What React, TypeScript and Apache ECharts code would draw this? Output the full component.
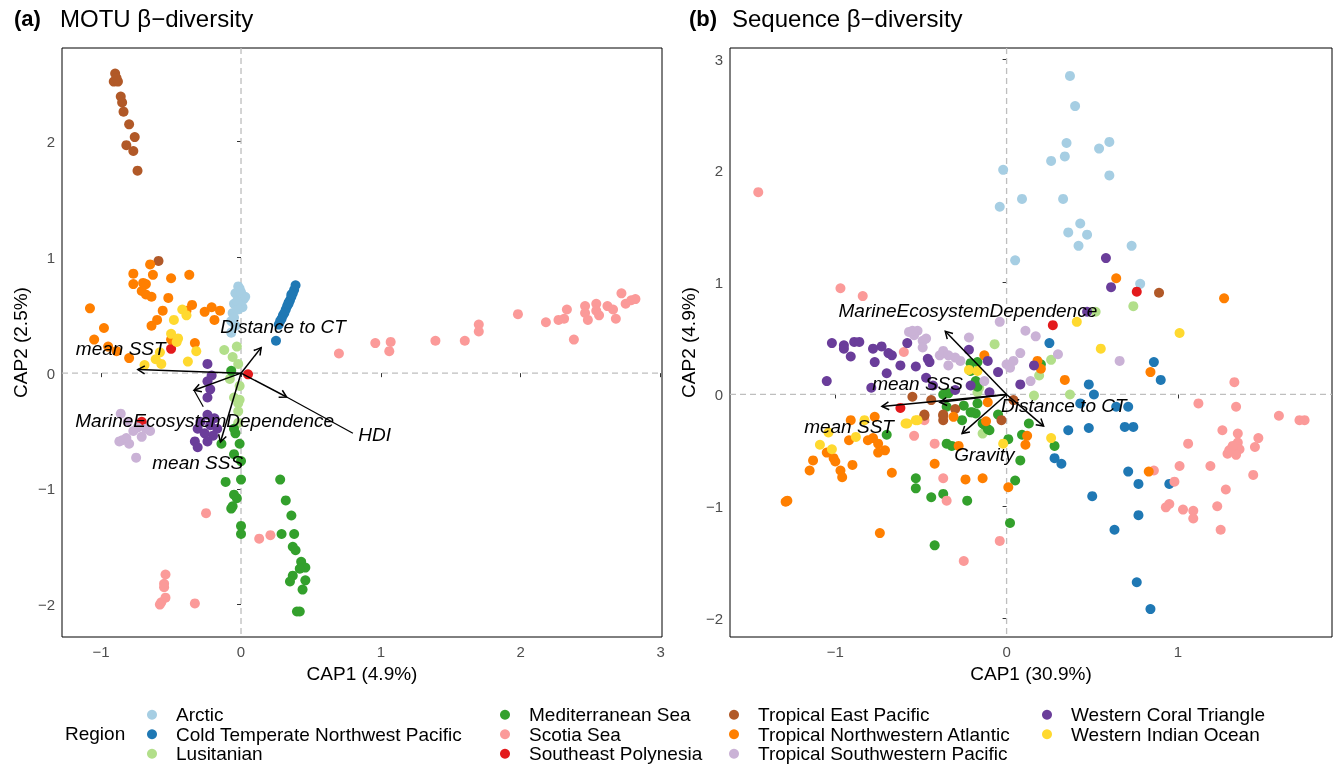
import React, { useEffect, useRef } from "react";
import * as echarts from "echarts";

const FONT = '"Liberation Sans", Arial, Helvetica, sans-serif';

const regions = [
  "Arctic",
  "Cold Temperate Northwest Pacific",
  "Lusitanian",
  "Mediterranean Sea",
  "Scotia Sea",
  "Southeast Polynesia",
  "Tropical East Pacific",
  "Tropical Northwestern Atlantic",
  "Tropical Southwestern Pacific",
  "Western Coral Triangle",
  "Western Indian Ocean",
];
const regionColors = [
  "#A6CEE3", "#1F78B4", "#B2DF8A", "#33A02C", "#FB9A99", "#E31A1C",
  "#B15928", "#FF7F00", "#CAB2D6", "#6A3D9A", "#FFD92F",
];

// ---------- Panel (a): MOTU ----------
const motuArctic = [[-0.01,0.73],[0.02,0.64],[-0.04,0.69],[-0.05,0.60],[-0.06,0.52],[-0.07,0.45],[-0.04,0.41],[-0.07,0.35],[0.0,0.70],[0.03,0.66],[-0.03,0.62],[0.01,0.57],[-0.02,0.55],[-0.05,0.48],[-0.02,0.75]];
const motuColdTemp = [[0.39,0.76],[0.38,0.72],[0.37,0.69],[0.36,0.66],[0.35,0.63],[0.34,0.61],[0.33,0.58],[0.32,0.55],[0.31,0.52],[0.30,0.50],[0.29,0.47],[0.28,0.45],[0.27,0.42],[0.25,0.28],[0.36,0.68],[0.34,0.60]];
const motuLusitanian = [[-0.12,0.20],[-0.03,0.23],[-0.06,0.14],[-0.02,0.08],[-0.08,-0.05],[-0.01,-0.11],[-0.05,-0.21],[-0.01,-0.23],[-0.02,-0.26],[-0.02,-0.33],[-0.02,-0.43]];
const motuMediterranean = [[-0.07,0.02],[-0.14,-0.61],[-0.04,-0.52],[-0.01,-0.61],[-0.05,-0.70],[0.0,-0.76],[-0.11,-0.94],[0.0,-0.92],[-0.05,-1.05],[-0.03,-1.08],[-0.06,-1.15],[-0.07,-1.17],[0.0,-1.32],[0.0,-1.39],[0.28,-0.92],[0.32,-1.10],[0.36,-1.23],[0.29,-1.39],[0.38,-1.39],[0.37,-1.50],[0.39,-1.53],[0.43,-1.63],[0.46,-1.68],[0.42,-1.69],[0.37,-1.75],[0.35,-1.80],[0.46,-1.79],[0.44,-1.87],[0.40,-2.06],[0.42,-2.06],[-0.05,-0.48]];
const motuScotia = [[0.70,0.17],[0.96,0.26],[1.07,0.27],[1.06,0.19],[1.39,0.28],[1.60,0.28],[1.70,0.42],[1.70,0.36],[1.98,0.51],[2.18,0.44],[2.27,0.46],[2.31,0.47],[2.33,0.55],[2.38,0.29],[2.46,0.58],[2.46,0.52],[2.48,0.46],[2.54,0.60],[2.54,0.54],[2.56,0.50],[2.62,0.58],[2.66,0.55],[2.68,0.47],[2.72,0.69],[2.75,0.60],[2.79,0.63],[2.82,0.64],[-0.25,-1.21],[0.13,-1.43],[0.21,-1.40],[-0.54,-1.74],[-0.55,-1.82],[-0.55,-1.85],[-0.54,-1.94],[-0.57,-1.98],[-0.58,-2.0],[-0.33,-1.99]];
const motuPolynesia = [[-0.50,0.21],[0.05,-0.01],[-0.71,-0.42]];
const motuEastPacific = [[-0.90,2.59],[-0.91,2.52],[-0.88,2.52],[-0.86,2.39],[-0.85,2.34],[-0.84,2.26],[-0.80,2.15],[-0.76,2.04],[-0.82,1.97],[-0.77,1.92],[-0.74,1.75],[-0.59,0.97],[-0.89,2.55]];
const motuNWAtlantic = [[-0.65,0.94],[-0.77,0.86],[-0.63,0.85],[-0.50,0.82],[-0.37,0.85],[-0.77,0.77],[-0.70,0.78],[-0.68,0.77],[-0.71,0.71],[-0.68,0.68],[-0.64,0.66],[-0.52,0.65],[-1.08,0.56],[-0.35,0.59],[-0.39,0.54],[-0.56,0.54],[-0.21,0.57],[-0.15,0.54],[-0.26,0.53],[-0.19,0.46],[-0.60,0.46],[-0.64,0.41],[-0.98,0.39],[-1.05,0.29],[-0.95,0.23],[-0.89,0.19],[-0.80,0.13],[-0.50,0.29],[-0.33,0.26]];
const motuSWPacific = [[-0.86,-0.35],[-0.81,-0.42],[-0.74,-0.47],[-0.68,-0.48],[-0.77,-0.50],[-0.85,-0.58],[-0.87,-0.59],[-0.80,-0.61],[-0.71,-0.55],[-0.65,-0.50],[-0.75,-0.73],[-0.82,-0.56]];
const motuCoralTriangle = [[-0.24,-0.36],[-0.19,-0.39],[-0.29,-0.42],[-0.22,-0.45],[-0.31,-0.48],[-0.17,-0.48],[-0.26,-0.52],[-0.20,-0.54],[-0.33,-0.59],[-0.24,-0.59],[-0.31,-0.64],[-0.24,-0.07],[-0.24,-0.21],[-0.22,-0.14],[-0.24,0.08],[-0.21,-0.02]];
const motuIndianOcean = [[-0.42,0.55],[-0.48,0.46],[-0.50,0.34],[-0.45,0.30],[-0.46,0.27],[-0.32,0.19],[-0.38,0.10],[-0.61,0.12],[-0.57,0.08],[-0.69,0.07],[-0.58,0.18],[-0.39,0.50]];

const motuPoints = [motuArctic, motuColdTemp, motuLusitanian, motuMediterranean, motuScotia, motuPolynesia, motuEastPacific, motuNWAtlantic, motuSWPacific, motuCoralTriangle, motuIndianOcean];

const motuVectorNames = ["mean SST", "Distance to CT", "HDI", "MarineEcosystemDependence", "mean SSS"];
const motuVectorTips = [[-0.738, 0.031], [0.144, 0.221], [0.326, -0.206], [-0.336, -0.148], [-0.147, -0.595]];
const motuLabelPos = [[-0.86, 0.21], [0.30, 0.40], [0.955, -0.53], [-0.26, -0.41], [-0.31, -0.77]];
const motuLabelLinks = [null, null, [0.80, -0.52], [-0.27, -0.29], null];

const motuXTicks = [-1, 0, 1, 2, 3];
const motuYTicks = [-2, -1, 0, 1, 2];

// ---------- Panel (b): Sequence ----------
const seqArctic = [[0.37,2.85],[0.40,2.58],[0.35,2.25],[0.60,2.26],[0.54,2.20],[0.34,2.13],[0.26,2.09],[0.60,1.96],[-0.02,2.01],[0.09,1.75],[0.33,1.75],[-0.04,1.68],[0.43,1.53],[0.36,1.45],[0.47,1.43],[0.42,1.33],[0.73,1.33],[0.05,1.20],[0.78,0.99]];
const seqColdTemp = [[0.25,0.46],[0.86,0.29],[0.90,0.13],[0.48,0.09],[0.51,0.00],[0.64,-0.11],[0.71,-0.11],[0.36,-0.32],[0.48,-0.30],[0.69,-0.29],[0.74,-0.29],[0.28,-0.57],[0.32,-0.62],[0.71,-0.69],[0.77,-0.80],[0.95,-0.80],[0.50,-0.91],[0.77,-1.08],[0.63,-1.21],[0.76,-1.68],[0.84,-1.92],[0.43,-0.08]];
const seqLusitanian = [[0.74,0.79],[0.52,0.74],[0.26,0.31],[0.19,0.17],[0.37,0.00],[0.16,-0.01],[-0.07,0.45],[-0.14,-0.35],[-0.17,0.02],[-0.16,0.06]];
const seqMediterranean = [[0.20,0.27],[-0.21,0.28],[-0.17,0.29],[-0.21,0.21],[-0.18,0.12],[-0.17,0.07],[-0.37,0.00],[-0.35,-0.11],[-0.25,-0.10],[-0.17,-0.08],[-0.21,-0.16],[-0.18,-0.17],[-0.26,-0.23],[-0.05,-0.18],[-0.13,-0.27],[-0.11,-0.31],[0.13,-0.26],[0.09,-0.36],[0.01,-0.40],[0.28,-0.46],[0.08,-0.59],[-0.35,-0.44],[-0.32,-0.46],[-0.70,-0.36],[-0.53,-0.75],[-0.53,-0.84],[-0.44,-0.92],[-0.37,-0.89],[-0.23,-0.95],[-0.42,-1.35],[0.02,-1.15],[0.05,-0.77],[-0.20,-0.16],[-0.14,-0.26],[-0.10,-0.32],[-0.34,0.01]];
const seqScotia = [[-1.45,1.81],[-0.97,0.95],[-0.84,0.88],[-0.60,0.38],[1.33,0.11],[1.12,-0.08],[1.34,-0.11],[-0.48,-0.23],[-0.54,-0.37],[-0.42,-0.44],[-0.37,-0.75],[-0.35,-0.95],[-0.04,-1.31],[-0.25,-1.49],[1.59,-0.19],[1.71,-0.23],[1.74,-0.23],[1.26,-0.32],[1.35,-0.35],[1.47,-0.39],[1.06,-0.44],[1.35,-0.43],[1.31,-0.49],[1.36,-0.49],[1.45,-0.47],[1.29,-0.53],[1.34,-0.54],[1.19,-0.64],[1.01,-0.64],[0.86,-0.68],[0.98,-0.78],[1.44,-0.72],[1.28,-0.85],[0.95,-0.98],[0.93,-1.01],[1.03,-1.03],[1.09,-1.04],[1.09,-1.11],[1.23,-1.00],[1.25,-1.21],[1.32,-0.46],[1.30,-0.50]];
const seqPolynesia = [[0.76,0.92],[0.27,0.62],[-0.62,-0.12]];
const seqEastPacific = [[0.89,0.91],[-0.55,-0.02],[-0.44,-0.05],[-0.48,-0.19],[-0.37,-0.19],[-0.37,-0.23],[-0.30,-0.13],[0.04,-0.05],[-0.03,-0.23],[-0.48,-0.18],[-0.37,-0.18]];
const seqNWAtlantic = [[0.64,1.04],[1.27,0.86],[0.84,0.20],[0.34,0.13],[0.20,0.23],[0.18,0.30],[-0.13,0.35],[-0.11,-0.07],[-0.31,-0.20],[-0.28,-0.46],[-0.42,-0.62],[0.11,-0.45],[-0.91,-0.23],[-0.77,-0.20],[-0.92,-0.41],[-0.81,-0.41],[-0.78,-0.39],[-0.75,-0.44],[-0.71,-0.50],[-0.75,-0.52],[-1.05,-0.52],[-1.01,-0.57],[-1.00,-0.60],[-1.13,-0.59],[-1.15,-0.68],[-0.97,-0.68],[-0.96,-0.74],[-0.90,-0.63],[-0.67,-0.70],[-1.29,-0.96],[-1.28,-0.95],[-0.24,-0.76],[-0.14,-0.75],[0.01,-0.83],[0.12,-0.37],[-0.12,-0.24],[-0.74,-1.24],[0.83,-0.69]];
const seqSWPacific = [[-0.57,0.56],[-0.52,0.57],[-0.54,0.53],[-0.49,0.48],[-0.49,0.42],[-0.37,0.39],[-0.39,0.35],[-0.34,0.35],[-0.27,0.30],[-0.34,0.26],[-0.22,0.51],[-0.04,0.65],[-0.13,0.12],[0.0,0.27],[0.04,0.30],[0.11,0.57],[0.17,0.52],[0.08,0.37],[0.14,0.12],[0.30,0.36],[0.66,0.30],[0.02,0.24],[-0.55,0.57],[-0.47,0.50],[-0.30,0.33]];
const seqCoralTriangle = [[0.58,1.22],[0.61,0.96],[0.47,0.74],[0.16,0.26],[0.08,0.09],[-1.02,0.46],[-0.95,0.44],[-0.95,0.41],[-0.89,0.47],[-0.86,0.47],[-0.91,0.34],[-0.78,0.41],[-0.73,0.43],[-0.77,0.29],[-0.69,0.37],[-0.67,0.35],[-0.62,0.26],[-0.58,0.46],[-0.70,0.19],[-0.53,0.25],[-0.46,0.32],[-0.45,0.29],[-0.47,0.15],[-1.05,0.12],[-0.79,0.06],[-0.22,0.40],[-0.11,0.30],[-0.05,0.20],[-0.30,0.04],[-0.10,0.02],[-0.43,0.08],[-0.21,0.08]];
const seqIndianOcean = [[0.41,0.65],[1.01,0.55],[0.55,0.41],[-0.22,0.22],[-0.17,0.21],[-0.53,-0.23],[-0.58,-0.26],[-0.02,-0.44],[0.26,-0.39],[-1.09,-0.45],[-1.02,-0.49],[-1.04,-0.34],[-0.88,-0.38],[-0.83,-0.23],[-0.59,-0.26],[-0.52,-0.23]];

const seqPoints = [seqArctic, seqColdTemp, seqLusitanian, seqMediterranean, seqScotia, seqPolynesia, seqEastPacific, seqNWAtlantic, seqSWPacific, seqCoralTriangle, seqIndianOcean];

const seqVectorNames = ["MarineEcosystemDependence", "mean SSS", "mean SST", "Gravity", "Distance to CT"];
const seqVectorTips = [[-0.358, 0.565], [-0.39, -0.07], [-0.728, -0.107], [-0.26, -0.35], [0.216, -0.283]];
const seqLabelPos = [[-0.226, 0.75], [-0.52, 0.095], [-0.92, -0.29], [-0.13, -0.54], [0.334, -0.10]];
const seqLabelLinks = [null, null, null, null, null];

const seqXTicks = [-1, 0, 1];
const seqYTicks = [-2, -1, 0, 1, 2, 3];

const legendColumns = [
  ["Arctic", "Cold Temperate Northwest Pacific", "Lusitanian"],
  ["Mediterranean Sea", "Scotia Sea", "Southeast Polynesia"],
  ["Tropical East Pacific", "Tropical Northwestern Atlantic", "Tropical Southwestern Pacific"],
  ["Western Coral Triangle", "Western Indian Ocean"],
];

const minusFmt = (v: number) => (v < 0 ? "\u2212" + Math.abs(v) : String(v));

function makeAxes(gridIndex: number, xTicks: number[], yTicks: number[], xr: number[], yr: number[], xName: string, yName: string) {
  const label = { color: "#4D4D4D", fontSize: 15, fontFamily: FONT, formatter: minusFmt };
  const tick = { show: true, length: 4, lineStyle: { color: "#333", width: 1 } };
  const xAxis = {
    type: "value", gridIndex, min: xr[0], max: xr[1],
    axisLine: { show: false }, splitLine: { show: false },
    axisTick: { ...tick, customValues: xTicks },
    axisLabel: { ...label, margin: 7, customValues: xTicks },
    name: xName, nameLocation: "middle", nameGap: 27,
    nameTextStyle: { fontSize: 19, color: "#000", fontFamily: FONT },
  };
  const yAxis = {
    type: "value", gridIndex, min: yr[0], max: yr[1],
    axisLine: { show: false }, splitLine: { show: false },
    axisTick: { ...tick, customValues: yTicks },
    axisLabel: { ...label, margin: 7, customValues: yTicks },
    name: yName, nameLocation: "middle", nameGap: 32, nameRotate: 90,
    nameTextStyle: { fontSize: 19, color: "#000", fontFamily: FONT },
  };
  return { xAxis, yAxis };
}

function zeroLineSeries(idx: number) {
  return {
    type: "custom", name: "zero" + idx, xAxisIndex: idx, yAxisIndex: idx, z: 1, silent: true,
    data: [[0, 0]],
    renderItem: (params: any, api: any) => {
      const cs = params.coordSys;
      const p = api.coord([0, 0]);
      const style = { stroke: "#BEBEBE", lineWidth: 1.3, lineDash: [6, 4] };
      return {
        type: "group",
        children: [
          { type: "line", shape: { x1: p[0], y1: cs.y, x2: p[0], y2: cs.y + cs.height }, style },
          { type: "line", shape: { x1: cs.x, y1: p[1], x2: cs.x + cs.width, y2: p[1] }, style },
        ],
      };
    },
  };
}

function vectorSeries(idx: number, names: string[], tips: number[][], labels: number[][], links: (number[] | null)[]) {
  return {
    type: "custom", name: "vectors" + idx, xAxisIndex: idx, yAxisIndex: idx, z: 10, silent: true,
    clip: false,
    data: tips.map((t, i) => [t[0], t[1], labels[i][0], labels[i][1]]),
    renderItem: (params: any, api: any) => {
      const i = params.dataIndex;
      const o = api.coord([0, 0]);
      const t = api.coord([api.value(0), api.value(1)]);
      const l = api.coord([api.value(2), api.value(3)]);
      const ang = Math.atan2(t[1] - o[1], t[0] - o[0]);
      const hl = 8, ha = Math.PI / 6;
      const p1 = [t[0] - hl * Math.cos(ang - ha), t[1] - hl * Math.sin(ang - ha)];
      const p2 = [t[0] - hl * Math.cos(ang + ha), t[1] - hl * Math.sin(ang + ha)];
      const st = { stroke: "#000", lineWidth: 1.5, fill: null };
      const children: any[] = [
        { type: "line", shape: { x1: o[0], y1: o[1], x2: t[0], y2: t[1] }, style: st },
        { type: "polyline", shape: { points: [p1, t, p2] }, style: st },
      ];
      const lk = links[i];
      if (lk) {
        const e = api.coord(lk);
        children.push({ type: "line", shape: { x1: t[0], y1: t[1], x2: e[0], y2: e[1] }, style: { stroke: "#000", lineWidth: 1.2 } });
      }
      children.push({
        type: "text", x: l[0], y: l[1],
        style: { text: names[i], fill: "#000", font: `italic 19px ${FONT}`, align: "center", verticalAlign: "middle" },
      });
      return { type: "group", children };
    },
  };
}

export default function App() {
  const ref = useRef<HTMLDivElement>(null);
  useEffect(() => {
    if (!ref.current) return;
    const chart = echarts.init(ref.current, null, { renderer: "svg" });
    const a = makeAxes(0, motuXTicks, motuYTicks, [-1.28, 3.01], [-2.28, 2.81], "CAP1 (4.9%)", "CAP2 (2.5%)");
    const b = makeAxes(1, seqXTicks, seqYTicks, [-1.615, 1.9], [-2.17, 3.1], "CAP1 (30.9%)", "CAP2 (4.9%)");

    const scatter = (idx: number, pts: number[][][]) =>
      pts.map((d, i) => ({
        type: "scatter", name: regions[i], xAxisIndex: idx, yAxisIndex: idx, data: d,
        symbol: "circle", symbolSize: 10, z: 2,
        itemStyle: { color: regionColors[i], opacity: 1 },
        emphasis: { disabled: true },
      }));

    const legends = legendColumns.map((col, ci) => ({
      orient: "vertical",
      left: [147, 500, 729, 1042][ci],
      top: 705,
      height: 80,
      width: 400,
      data: col,
      icon: "circle",
      itemWidth: 38,
      itemHeight: 10,
      itemGap: 0,
      padding: 0,
      selectedMode: false,
      textStyle: { fontSize: 19, lineHeight: 19.5, color: "#000", fontFamily: FONT },
    }));

    chart.setOption({
      animation: false,
      color: regionColors,
      textStyle: { fontFamily: FONT },
      grid: [
        { left: 62, top: 48, width: 600, height: 589, show: true, borderColor: "#000", borderWidth: 1, backgroundColor: "transparent" },
        { left: 730, top: 48, width: 602, height: 589, show: true, borderColor: "#000", borderWidth: 1, backgroundColor: "transparent" },
      ],
      xAxis: [a.xAxis, b.xAxis],
      yAxis: [a.yAxis, b.yAxis],
      legend: legends,
      graphic: [
        { type: "text", left: 14, top: 7, style: { text: "(a)", font: `bold 22px ${FONT}`, fill: "#000" } },
        { type: "text", left: 60, top: 6, style: { text: "MOTU \u03B2\u2212diversity", font: `24px ${FONT}`, fill: "#000" } },
        { type: "text", left: 689, top: 7, style: { text: "(b)", font: `bold 22px ${FONT}`, fill: "#000" } },
        { type: "text", left: 732, top: 6, style: { text: "Sequence \u03B2\u2212diversity", font: `24px ${FONT}`, fill: "#000" } },
        { type: "text", left: 65, top: 724, style: { text: "Region", font: `19px ${FONT}`, fill: "#000" } },
      ],
      series: [
        zeroLineSeries(0),
        zeroLineSeries(1),
        ...scatter(0, motuPoints),
        ...scatter(1, seqPoints),
        vectorSeries(0, motuVectorNames, motuVectorTips, motuLabelPos, motuLabelLinks),
        vectorSeries(1, seqVectorNames, seqVectorTips, seqLabelPos, seqLabelLinks),
      ],
    });
    return () => chart.dispose();
  }, []);
  return <div ref={ref} style={{ position: "fixed", left: 0, top: 0, width: 1336, height: 765 }} />;
}
